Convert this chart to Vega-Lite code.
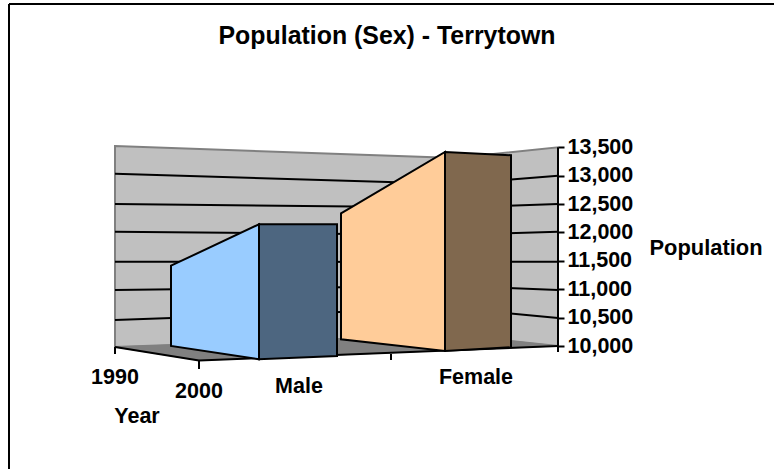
{
"$schema":"https://vega.github.io/schema/vega-lite/v6.json",
"width":774,"height":469,"padding":0,"autosize":{"type":"none"},
"background":"white",
"config":{"view":{"stroke":null},"font":"Liberation Sans"},
"title":{"text":"Population (Sex) - Terrytown","anchor":"middle","offset":-49,"font":"Liberation Sans","fontSize":24.9,"fontWeight":"bold","color":"#000000"},
"datasets":{
"walls":[
{"face":"Left wall","x":115,"top":13522,"bottom":9982},
{"face":"Left wall","x":455,"top":13311,"bottom":10194},
{"face":"Right wall","x":455,"top":13311,"bottom":10194},
{"face":"Right wall","x":558,"top":13500,"bottom":10000}],
"floor":[
{"x":115,"top":9982,"bottom":9982},
{"x":199,"top":10035,"bottom":9745},
{"x":455,"top":10194,"bottom":9926},
{"x":558,"top":10000,"bottom":10000}],
"lines":[
{"kind":"grid","x":115,"y":13034,"x2":455,"y2":12853},
{"kind":"grid","x":455,"y":12853,"x2":558,"y2":12999},
{"kind":"grid","x":115,"y":12501,"x2":455,"y2":12439},
{"kind":"grid","x":455,"y":12439,"x2":558,"y2":12501},
{"kind":"grid","x":115,"y":12013,"x2":455,"y2":11955},
{"kind":"grid","x":455,"y":11955,"x2":558,"y2":12013},
{"kind":"grid","x":115,"y":11485,"x2":455,"y2":11479},
{"kind":"grid","x":455,"y":11479,"x2":558,"y2":11485},
{"kind":"grid","x":115,"y":10986,"x2":455,"y2":11057},
{"kind":"grid","x":455,"y":11057,"x2":558,"y2":10986},
{"kind":"grid","x":115,"y":10458,"x2":455,"y2":10669},
{"kind":"grid","x":455,"y":10669,"x2":558,"y2":10493},
{"kind":"tick","x":115,"y":9982,"x2":115,"y2":9859},
{"kind":"tick","x":199,"y":9745,"x2":199,"y2":9595},
{"kind":"tick","x":391,"y":9859,"x2":391,"y2":9753},
{"kind":"tick","x":558,"y":13500,"x2":558,"y2":9894},
{"kind":"edge","x":115,"y":9982,"x2":199,"y2":9745},
{"kind":"edge","x":199,"y":9745,"x2":558,"y2":10000},
{"kind":"frame","x":9,"y":16023,"x2":774,"y2":16023},
{"kind":"frame","x":9,"y":16023,"x2":9,"y2":7800}],
"bars":[
{"face":"Male side","x":171,"top":11414,"bottom":10000},
{"face":"Male side","x":259,"top":12143,"bottom":9766},
{"face":"Male front","x":259,"top":12143,"bottom":9766},
{"face":"Male front","x":337,"top":12143,"bottom":9824},
{"face":"Female side","x":341,"top":12337,"bottom":10118},
{"face":"Female side","x":445,"top":13417,"bottom":9912},
{"face":"Female front","x":445,"top":13417,"bottom":9912},
{"face":"Female front","x":511,"top":13359,"bottom":9977}],
"labels":[
{"label":"1990","x":115,"y":9436},
{"label":"2000","x":199,"y":9190},
{"label":"Year","x":137,"y":8750},
{"label":"Male","x":299,"y":9278},
{"label":"Female","x":476,"y":9436}]
},
"encoding":{
"x":{"field":"x","type":"quantitative","scale":{"domain":[0,774],"nice":false,"zero":false},"axis":null}
},
"layer":[
{"data":{"name":"walls"},"mark":{"type":"area","line":false,"fill":"#c0c0c0","stroke":"#808080","strokeWidth":2},
"encoding":{"detail":{"field":"face"},
"y":{"field":"top","type":"quantitative","scale":{"domain":[7834,16093],"nice":false,"zero":false},
"axis":{"title":"Population","titleX":91,"titleY":247,"titleAngle":0,"titleAlign":"left","titleBaseline":"middle","titleFont":"Liberation Sans","titleFontSize":21.9,"titleFontWeight":"bold","titleColor":"#000000","orient":"right","offset":-216,"domain":false,"grid":false,"values":[10000,10500,11000,11500,12000,12500,13000,13500],"format":",d","tickSize":6,"tickWidth":2,"tickColor":"#000000","labelFont":"Liberation Sans","labelFontSize":21.5,"labelFontWeight":"bold","labelColor":"#000000","labelPadding":3}},
"y2":{"field":"bottom"}}},
{"data":{"name":"floor"},"mark":{"type":"area","line":false,"fill":"#808080","stroke":"#808080","strokeWidth":1},
"encoding":{"y":{"field":"top","type":"quantitative"},"y2":{"field":"bottom"}}},
{"data":{"name":"lines"},"mark":{"type":"rule","color":"#000000","strokeWidth":2},
"encoding":{"detail":{"field":"kind"},"y":{"field":"y","type":"quantitative"},"x2":{"field":"x2"},"y2":{"field":"y2"}}},
{"data":{"name":"bars"},"mark":{"type":"area","line":false,"stroke":"#000000","strokeWidth":2,"strokeJoin":"miter"},
"encoding":{"color":{"field":"face","type":"nominal","legend":null,"scale":{"domain":["Male side","Male front","Female side","Female front"],"range":["#99ccff","#4d6680","#ffcc99","#80684e"]}},
"y":{"field":"top","type":"quantitative"},"y2":{"field":"bottom"}}},
{"data":{"name":"labels"},"mark":{"type":"text","font":"Liberation Sans","fontSize":21.5,"fontWeight":"bold","color":"#000000","baseline":"middle","align":"center"},
"encoding":{"y":{"field":"y","type":"quantitative"},"text":{"field":"label"}}}
]
}
